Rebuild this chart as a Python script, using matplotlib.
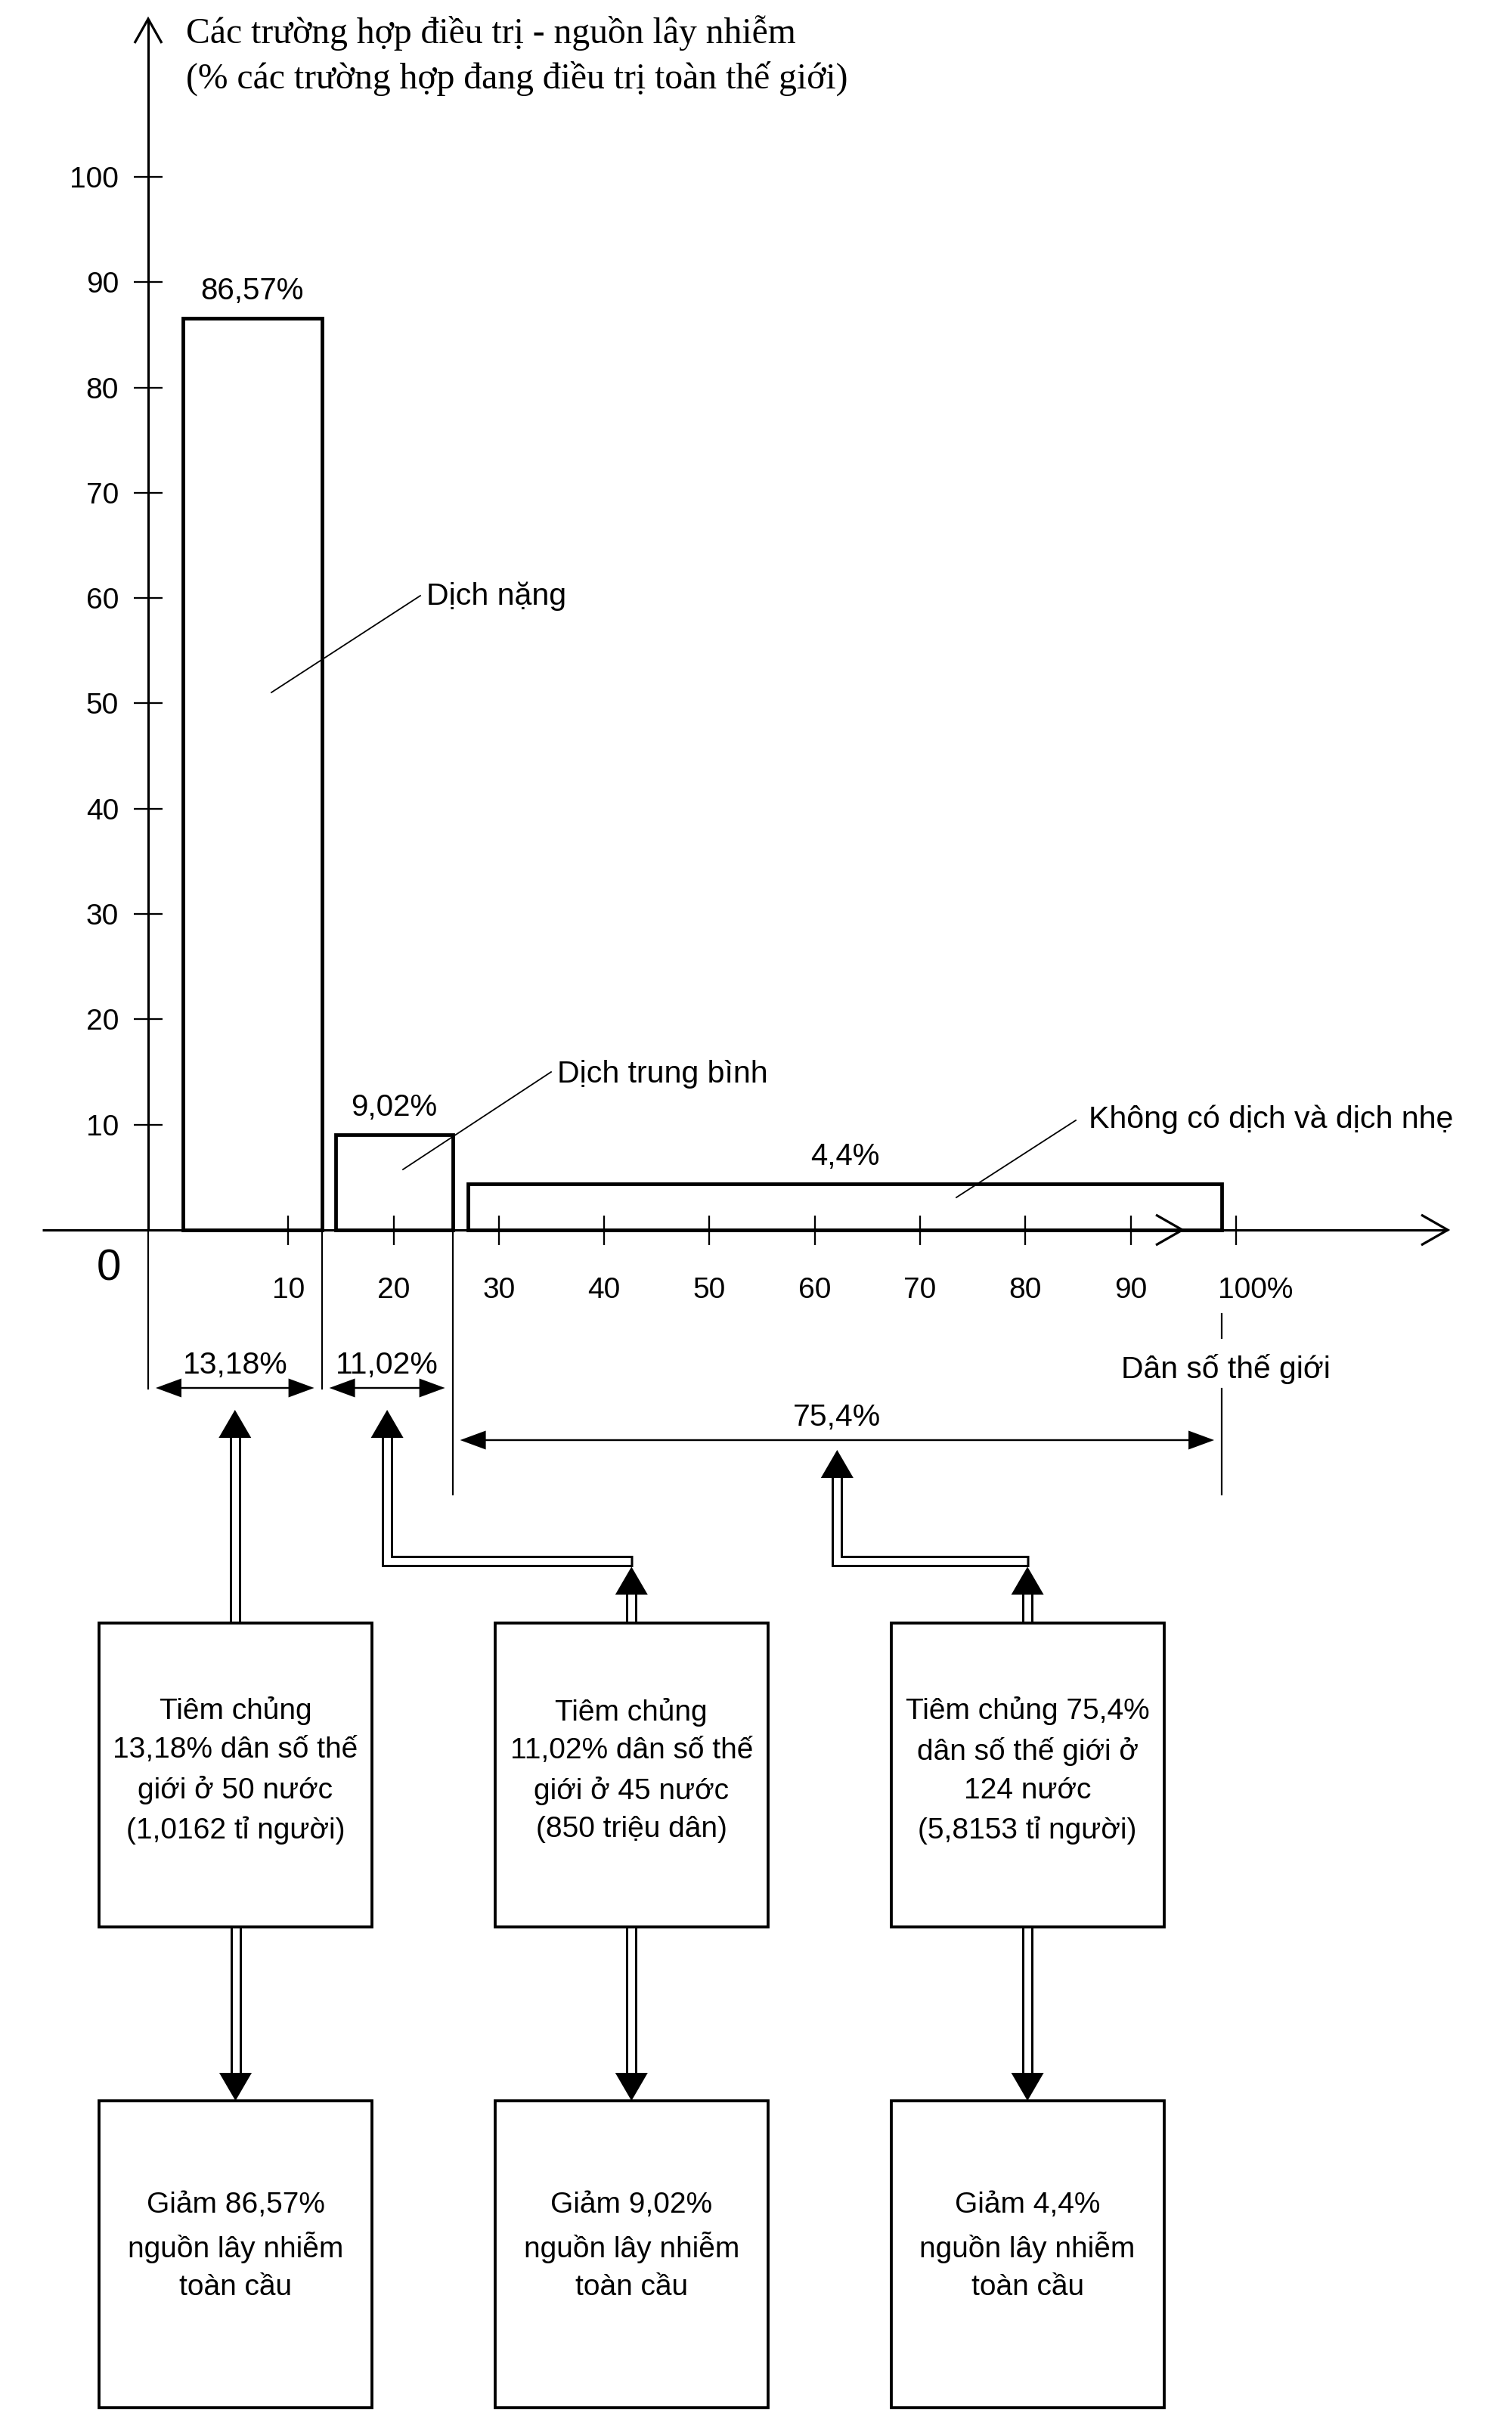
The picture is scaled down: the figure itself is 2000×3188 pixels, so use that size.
import matplotlib
matplotlib.use("Agg")
import matplotlib.pyplot as plt
import matplotlib.transforms as mtransforms
import numpy as np
from matplotlib.patches import Rectangle

plt.rcParams['font.family'] = ['Liberation Sans', 'DejaVu Sans']

# ---------------- data ----------------
title_lines = ["Các trường hợp điều trị - nguồn lây nhiễm",
               "(% các trường hợp đang điều trị toàn thế giới)"]
bar_names = ["Dịch nặng", "Dịch trung bình", "Không có dịch và dịch nhẹ"]
bar_values = [86.57, 9.02, 4.4]                 # % of treated cases
bar_value_labels = ["86,57%", "9,02%", "4,4%"]
bar_start = [0.0, 14.5, 27.05]                  # world population axis (as drawn)
bar_end = [13.18, 25.6, 98.64]
pop_share_labels = ["13,18%", "11,02%", "75,4%"]
x_ticks = [10, 20, 30, 40, 50, 60, 70, 80, 90, 100]
x_tick_labels = ["10", "20", "30", "40", "50", "60", "70", "80", "90", "100%"]
y_ticks = [10, 20, 30, 40, 50, 60, 70, 80, 90, 100]
y_tick_labels = ["10", "20", "30", "40", "50", "60", "70", "80", "90", "100"]
x_axis_name = "Dân số thế giới"
vaccination_texts = ["Tiêm chủng\n13,18% dân số thế\ngiới ở 50 nước\n(1,0162 tỉ người)",
                     "Tiêm chủng\n11,02% dân số thế\ngiới ở 45 nước\n(850 triệu dân)",
                     "Tiêm chủng 75,4%\ndân số thế giới ở\n124 nước\n(5,8153 tỉ người)"]
reduction_texts = ["Giảm 86,57%\nnguồn lây nhiễm\ntoàn cầu",
                   "Giảm 9,02%\nnguồn lây nhiễm\ntoàn cầu",
                   "Giảm 4,4%\nnguồn lây nhiễm\ntoàn cầu"]

# ---------------- layout (pixels of the 2000x3188 canvas) ----------------
W, H, DPI = 2000, 3188, 100
U = 13.93                 # pixels per data unit (both axes)
X0, Y0 = 242, 1627        # pixel position of the data origin
PT = 72.0 / DPI           # points per pixel


def px(x):
    return (x - X0) / U


def py(y):
    return (Y0 - y) / U


def L(p):
    return p / U


fig = plt.figure(figsize=(W / DPI, H / DPI), dpi=DPI)
ax = fig.add_axes([0, 0, 1, 1])
ax.set_xlim(px(0), px(W))
ax.set_ylim(py(H), py(0))

AXLW = 3.2 * PT
# axes through the library spines
for s in ("top", "right"):
    ax.spines[s].set_visible(False)
ax.spines['left'].set_position(('data', px(196)))
ax.spines['left'].set_bounds(0, py(25))
ax.spines['bottom'].set_position(('data', 0))
ax.spines['bottom'].set_bounds(px(56), px(1915))
for s in ("left", "bottom"):
    ax.spines[s].set_linewidth(AXLW)
    ax.spines[s].set_capstyle('butt')

ax.set_xticks(x_ticks, labels=x_tick_labels)
ax.set_yticks(y_ticks, labels=y_tick_labels)
ax.tick_params(axis='x', direction='inout', length=39 * PT, width=2.3 * PT,
               pad=43 * PT, labelsize=28)
ax.tick_params(axis='y', direction='inout', length=38 * PT, width=2.3 * PT,
               pad=20 * PT, labelsize=28)
xlabs = ax.get_xticklabels()
xlabs[-1].set_ha('left')
xlabs[-1].set_transform(xlabs[-1].get_transform() +
                        mtransforms.ScaledTranslation(-24 / DPI, 0, fig.dpi_scale_trans))

# axis arrow chevrons
yax = px(196)
top = py(25)
ax.plot([yax - L(18), yax, yax + L(18)], [top - L(32), top, top - L(32)],
        color='black', lw=AXLW, solid_joinstyle='miter', solid_capstyle='butt')
for tip in (px(1915), px(1564)):
    ax.plot([tip - L(35), tip, tip - L(35)], [L(20), 0, -L(20)],
            color='black', lw=AXLW, solid_joinstyle='miter', solid_capstyle='butt')

ax.text(px(144), py(1679), "0", fontsize=42, ha='center', va='center')

# bars
widths = np.subtract(bar_end, bar_start)
ax.bar(bar_start, bar_values, width=widths, align='edge', fill=False,
       edgecolor='black', linewidth=4.8 * PT, joinstyle='miter', zorder=3)
for s, w, v, lab in zip(bar_start, widths, bar_values, bar_value_labels):
    ax.text(s + w / 2, v + L(25), lab, ha='center', va='baseline', fontsize=29)

# leader lines with category names
leader_from = [(359, 916), (533, 1547), (1265, 1584)]
leader_to = [(556, 788), (729, 1418), (1423, 1482)]
name_pos = [(564, 800), (737, 1432), (1440, 1492)]
for (a, b), (c, d), (tx, ty), name in zip(leader_from, leader_to, name_pos, bar_names):
    ax.plot([px(a), px(c)], [py(b), py(d)], color='black', lw=1.8 * PT)
    ax.text(px(tx), py(ty), name, ha='left', va='baseline', fontsize=29.6)

# title
ax.text(px(246), py(57), title_lines[0], family=['Liberation Serif', 'DejaVu Serif'],
        fontsize=34.3, ha='left', va='baseline')
ax.text(px(246), py(117), title_lines[1], family=['Liberation Serif', 'DejaVu Serif'],
        fontsize=34.3, ha='left', va='baseline')

# extension lines below the axis
THIN = 2.2 * PT
ext_x = [px(196)] + list(bar_end)
ax.plot([ext_x[0]] * 2, [0, py(1837)], color='black', lw=THIN)
ax.plot([ext_x[1]] * 2, [0, py(1837)], color='black', lw=THIN)
ax.plot([ext_x[2]] * 2, [0, py(1977)], color='black', lw=THIN)
ax.plot([ext_x[3]] * 2, [py(1738), py(1770)], color='black', lw=THIN)
ax.plot([ext_x[3]] * 2, [py(1837), py(1977)], color='black', lw=THIN)
ax.text(px(1621), py(1823), x_axis_name, ha='center', va='baseline', fontsize=29.3)


def head(x, y, dx, dy, length, half):
    """filled triangle with tip at (x, y) pointing along (dx, dy)"""
    bx, by = x - dx * length, y - dy * length
    nx, ny = -dy, dx
    ax.fill([x, bx + nx * half, bx - nx * half], [y, by + ny * half, by - ny * half],
            color='black', lw=0, zorder=5)


# dimension arrows
dim_y = [py(1836), py(1836), py(1905)]
gap = L(10)
dim_centers = []
for i in range(3):
    a, b = ext_x[i] + gap, ext_x[i + 1] - gap
    y = dim_y[i]
    ax.plot([a + L(20), b - L(20)], [y, y], color='black', lw=2.4 * PT)
    head(a, y, -1, 0, L(34), L(12.5))
    head(b, y, 1, 0, L(34), L(12.5))
    dim_centers.append((a + b) / 2)
    ax.text((a + b) / 2, y + L(19), pop_share_labels[i], ha='center', va='baseline',
            fontsize=29.5)

# boxes
box_left0, box_step, box_w = px(131), L(523.8), L(361)
row1_top, row1_bot = py(2147), py(2549)
row2_top, row2_bot = py(2779), py(3185)
box_cx = [box_left0 + i * box_step + box_w / 2 for i in range(3)]
BOXLW = 3.8 * PT
for i in range(3):
    x0 = box_left0 + i * box_step
    for (t, b, txt, ls, off) in ((row1_top, row1_bot, vaccination_texts[i], 1.52, 6),
                                 (row2_top, row2_bot, reduction_texts[i], 1.5, 10)):
        ax.add_patch(Rectangle((x0, b), box_w, t - b, fill=True, facecolor='white',
                               edgecolor='black', lw=BOXLW, zorder=4,
                               joinstyle='miter'))
        ax.text(x0 + box_w / 2, (t + b) / 2 + L(off), txt, ha='center', va='center',
                fontsize=28, linespacing=ls, zorder=6)

# hollow (double-line) shafts
OUT, INN = 15 * PT, 9 * PT


def shaft(xs, ys, close_end=False):
    ax.plot(xs, ys, color='black', lw=OUT, solid_capstyle='butt',
            solid_joinstyle='miter', zorder=3)
    xs2, ys2 = list(xs), list(ys)
    if close_end:
        xs2[-1] = xs2[-1] - L(3)
    ax.plot(xs2, ys2, color='white', lw=INN, solid_capstyle='butt',
            solid_joinstyle='miter', zorder=3)


HL, HW = L(37), L(21.5)
tip_y = [py(1865), py(1865), py(1918)]
bent = [False, True, True]
bend_y = py(2065)
for i in range(3):
    tx = dim_centers[i]
    ty = tip_y[i]
    if not bent[i]:
        shaft([tx, tx], [row1_top, ty - HL + L(2)])
    else:
        shaft([tx, tx, box_cx[i] + L(1.5)], [ty - HL + L(2), bend_y, bend_y],
              close_end=True)
        utip = bend_y - L(7.5)
        shaft([box_cx[i], box_cx[i]], [row1_top, utip - HL + L(2)])
        head(box_cx[i], utip, 0, 1, HL, HW)
    head(tx, ty, 0, 1, HL, HW)
    # down arrows to reduction boxes
    shaft([box_cx[i], box_cx[i]], [row1_bot, row2_top + HL - L(2)])
    head(box_cx[i], row2_top, 0, -1, HL, HW)

ax.set_facecolor('white')
fig.savefig("out.png", dpi=DPI, facecolor='white')
